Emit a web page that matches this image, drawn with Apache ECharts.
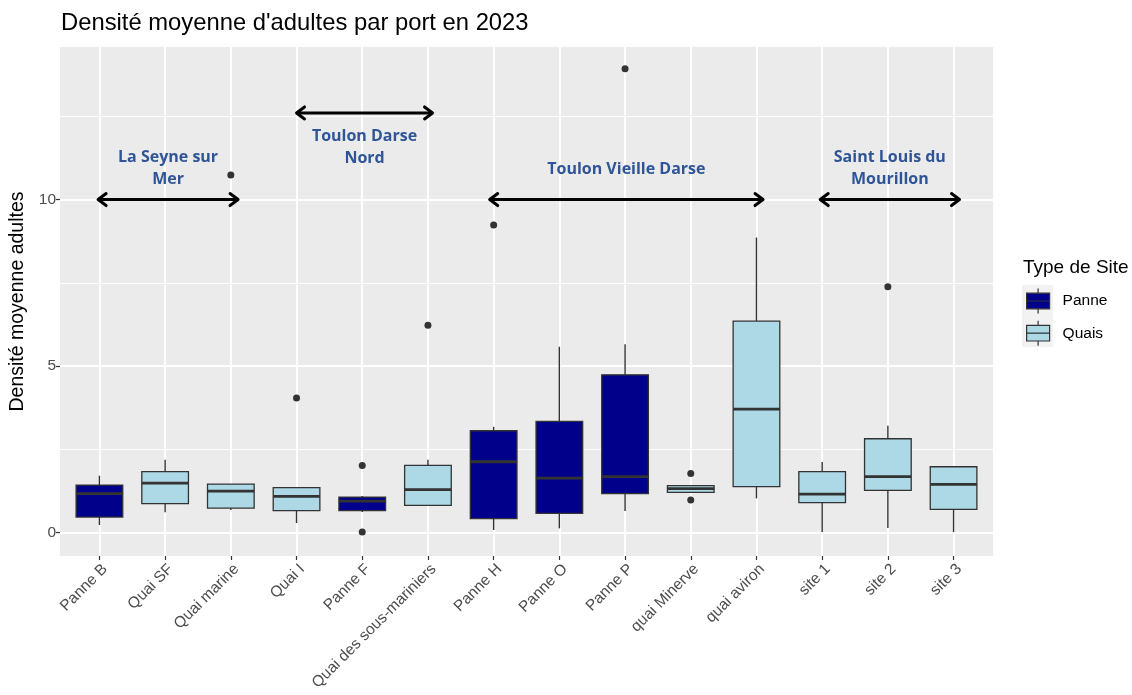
<!DOCTYPE html>
<html>
<head>
<meta charset="utf-8">
<title>Densité moyenne d'adultes par port en 2023</title>
<script src="https://cdn.jsdelivr.net/npm/echarts@6/dist/echarts.min.js"></script>
<style>
  html, body { margin: 0; padding: 0; background: #ffffff; }
  #chart { width: 1132px; height: 695px; }
</style>
</head>
<body>
<div id="chart"></div>
<script>
// Sampling sites, in axis order, and the kind of site each one is
const sites = ['Panne B', 'Quai SF', 'Quai marine', 'Quai I', 'Panne F', 'Quai des sous-mariniers',
  'Panne H', 'Panne O', 'Panne P', 'quai Minerve', 'quai aviron', 'site 1', 'site 2', 'site 3'];
const siteTypes = ['Panne', 'Quais', 'Quais', 'Quais', 'Panne', 'Quais',
  'Panne', 'Panne', 'Panne', 'Quais', 'Quais', 'Quais', 'Quais', 'Quais'];

// Box statistics per site (mean adult density)
const lowWhisker  = [0.23, 0.61, 0.68, 0.29, 0.62, 0.82, 0.08, 0.13, 0.65, 1.21, 1.03, 0.02, 0.14, 0.02];
const lowerQuart  = [0.47, 0.87, 0.74, 0.66, 0.66, 0.82, 0.42, 0.58, 1.17, 1.21, 1.38, 0.90, 1.27, 0.70];
const medians     = [1.17, 1.49, 1.25, 1.09, 0.95, 1.29, 2.13, 1.64, 1.68, 1.32, 3.71, 1.16, 1.68, 1.45];
const upperQuart  = [1.43, 1.83, 1.46, 1.35, 1.07, 2.02, 3.06, 3.34, 4.74, 1.41, 6.35, 1.83, 2.82, 1.98];
const highWhisker = [1.71, 2.19, 1.46, 1.37, 1.10, 2.19, 3.18, 5.58, 5.66, 1.41, 8.86, 2.12, 3.21, 1.98];

// Outlying observations: site index and value
const outlierSite  = [2, 3, 4, 4, 5, 6, 8, 9, 9, 12];
const outlierValue = [10.74, 4.04, 2.02, 0.02, 6.23, 9.24, 13.93, 1.78, 0.98, 7.38];

// Axis ticks
const yTicks = [0, 5, 10];
const yMinorTicks = [2.5, 7.5, 12.5];

// Harbour groupings drawn as double arrows over the boxes
const regionLabels = ['La Seyne sur\nMer', 'Toulon Darse\nNord', 'Toulon Vieille Darse', 'Saint Louis du\nMourillon'];
const regionStart  = [-0.02, 3.0, 5.94, 10.97];
const regionEnd    = [2.11, 5.07, 10.1, 13.09];
const regionArrowY = [10.0, 12.6, 10.0, 10.0];
const regionLabelY = [10.92, 11.55, 10.89, 10.92];

const typeColors = { Panne: '#00008B', Quais: '#ADD8E6' };
const lineColor = '#333333';
const baseFont = "'Liberation Sans', Arial, sans-serif";

function boxRows(type) {
  const rows = [];
  sites.forEach((s, i) => {
    if (siteTypes[i] === type) {
      rows.push([i, lowWhisker[i], lowerQuart[i], medians[i], upperQuart[i], highWhisker[i]]);
    }
  });
  return rows;
}

function renderBox(fill) {
  return function (params, api) {
    const x = api.value(0);
    const pLo = api.coord([x, api.value(1)]);
    const pQ1 = api.coord([x, api.value(2)]);
    const pMed = api.coord([x, api.value(3)]);
    const pQ3 = api.coord([x, api.value(4)]);
    const pHi = api.coord([x, api.value(5)]);
    const w = api.size([0.71, 0])[0];
    const cx = pMed[0];
    return {
      type: 'group',
      children: [
        { type: 'line', shape: { x1: cx, y1: pQ3[1], x2: cx, y2: pHi[1] },
          style: { stroke: lineColor, lineWidth: 1.4 } },
        { type: 'line', shape: { x1: cx, y1: pQ1[1], x2: cx, y2: pLo[1] },
          style: { stroke: lineColor, lineWidth: 1.4 } },
        { type: 'rect', shape: { x: cx - w / 2, y: pQ3[1], width: w, height: pQ1[1] - pQ3[1] },
          style: { fill: fill, stroke: lineColor, lineWidth: 1.3 } },
        { type: 'line', shape: { x1: cx - w / 2, y1: pMed[1], x2: cx + w / 2, y2: pMed[1] },
          style: { stroke: lineColor, lineWidth: 2.8 } }
      ]
    };
  };
}

function renderRegion(params, api) {
  const i = params.dataIndex;
  const p0 = api.coord([api.value(0), api.value(2)]);
  const p1 = api.coord([api.value(1), api.value(2)]);
  const pt = api.coord([(api.value(0) + api.value(1)) / 2, api.value(3)]);
  const stroke = { stroke: '#000000', lineWidth: 3, lineCap: 'round', lineJoin: 'round', fill: null };
  return {
    type: 'group',
    children: [
      { type: 'line', shape: { x1: p0[0] + 1, y1: p0[1], x2: p1[0] - 1, y2: p1[1] }, style: stroke },
      { type: 'polyline', shape: { points: [[p0[0] + 8, p0[1] - 6], [p0[0], p0[1]], [p0[0] + 8, p0[1] + 6]] }, style: stroke },
      { type: 'polyline', shape: { points: [[p1[0] - 8, p1[1] - 6], [p1[0], p1[1]], [p1[0] - 8, p1[1] + 6]] }, style: stroke },
      { type: 'text', x: pt[0], y: pt[1],
        style: { text: regionLabels[i], fill: '#2F5597', fontSize: 16, fontWeight: 'bold',
          fontFamily: "'Open Sans', 'Noto Sans', sans-serif", align: 'center', verticalAlign: 'middle', lineHeight: 22 } }
    ]
  };
}

const chart = echarts.init(document.getElementById('chart'), null, { renderer: 'canvas' });

const yRange = { min: -0.70, max: 14.58 };

chart.setOption({
  animation: false,
  backgroundColor: '#ffffff',
  title: [
    { text: "Densité moyenne d'adultes par port en 2023", left: 61, top: 10, padding: 0,
      textStyle: { fontFamily: baseFont, fontSize: 23.8, fontWeight: 'normal', color: '#000000', lineHeight: 26 } },
    { text: 'Type de Site', left: 1023, top: 257, padding: 0,
      textStyle: { fontFamily: baseFont, fontSize: 19, fontWeight: 'normal', color: '#000000', lineHeight: 22 } }
  ],
  graphic: [
    { type: 'rect', left: 1022, top: 285, z: 0, shape: { width: 31, height: 62 }, style: { fill: '#F2F2F2' } }
  ],
  legend: {
    data: ['Panne', 'Quais'],
    orient: 'vertical',
    left: 1026, top: 288, padding: 0,
    itemWidth: 23, itemHeight: 25, itemGap: 6,
    z: 5,
    icon: 'path://M0,4.6H23V20.2H0Z M11.5,0V4.6 M11.5,20.2V25 M0,12.4H23',
    itemStyle: { borderColor: lineColor, borderWidth: 1.2 },
    textStyle: { fontFamily: baseFont, fontSize: 15.5, color: '#000000', padding: [0, 0, 0, 8] }
  },
  grid: {
    left: 60, right: 139, top: 47, bottom: 139,
    show: true, backgroundColor: '#EBEBEB', borderWidth: 0,
    containLabel: false, outerBoundsMode: 'none'
  },
  xAxis: {
    type: 'value', min: -0.6, max: 13.6,
    axisLine: { show: false, onZero: false },
    axisTick: { show: true, customValues: sites.map((s, i) => i), length: 4,
      lineStyle: { color: lineColor, width: 1.2 } },
    axisLabel: { customValues: sites.map((s, i) => i), formatter: v => sites[Math.round(v)],
      rotate: 45, margin: 5, verticalAlign: 'top', color: '#4D4D4D', fontFamily: baseFont, fontSize: 15.5 },
    splitLine: { show: true, lineStyle: { color: '#ffffff', width: 1.9 } }
  },
  yAxis: [
    {
      type: 'value', min: yRange.min, max: yRange.max,
      name: 'Densité moyenne adultes', nameLocation: 'middle', nameGap: 32,
      nameTextStyle: { fontFamily: baseFont, fontSize: 19.5, color: '#000000' },
      axisLine: { show: false, onZero: false },
      axisTick: { show: true, customValues: yTicks, length: 4, lineStyle: { color: lineColor, width: 1.2 } },
      axisLabel: { customValues: yTicks, margin: 4, color: '#4D4D4D', fontFamily: baseFont, fontSize: 15.5 },
      splitLine: { show: true, lineStyle: { color: '#ffffff', width: 1.9 } }
    },
    {
      type: 'value', min: yRange.min, max: yRange.max, position: 'left',
      axisLine: { show: false, onZero: false },
      axisTick: { show: false, customValues: yMinorTicks },
      axisLabel: { show: false, customValues: yMinorTicks },
      splitLine: { show: true, lineStyle: { color: '#ffffff', width: 0.95 } }
    }
  ],
  series: [
    { name: 'Panne', type: 'custom', renderItem: renderBox(typeColors.Panne), data: boxRows('Panne'),
      itemStyle: { color: typeColors.Panne }, encode: { x: 0, y: [1, 2, 3, 4, 5] }, z: 3 },
    { name: 'Quais', type: 'custom', renderItem: renderBox(typeColors.Quais), data: boxRows('Quais'),
      itemStyle: { color: typeColors.Quais }, encode: { x: 0, y: [1, 2, 3, 4, 5] }, z: 3 },
    { name: 'outliers', type: 'scatter', symbolSize: 7, itemStyle: { color: lineColor, opacity: 1 },
      data: outlierSite.map((s, i) => [s, outlierValue[i]]), z: 4 },
    { name: 'regions', type: 'custom', renderItem: renderRegion, silent: true, z: 6,
      data: regionLabels.map((r, i) => [regionStart[i], regionEnd[i], regionArrowY[i], regionLabelY[i]]),
      encode: { x: [0, 1], y: [2, 3] } }
  ]
});
</script>
</body>
</html>
